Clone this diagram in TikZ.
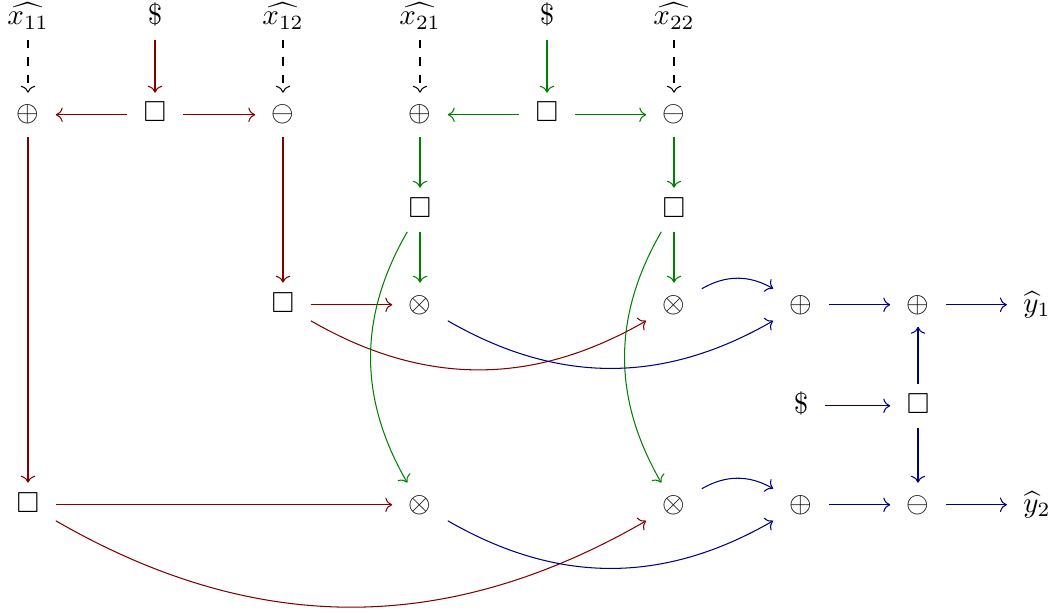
\documentclass[tikz,border=0pt]{standalone}
\usepackage{amssymb}
\usetikzlibrary{arrows.meta}
\definecolor{cdred}{rgb}{0.5,0,0}
\definecolor{cdgreen}{rgb}{0,0.5,0}
\definecolor{cdblue}{rgb}{0,0,0.5}
\begin{document}
\begin{tikzpicture}[x=0.345pt,y=-0.345pt,
  cell/.style={anchor=base, inner xsep=5.5pt, inner ysep=3.5pt,
               text height=6.4pt, text depth=1.4pt},
  arr/.style={-{Computer Modern Rightarrow}, line width=0.36pt},
  rd/.style={arr, draw=cdred},
  gr/.style={arr, draw=cdgreen},
  bl/.style={arr, draw=cdblue},
  dsh/.style={arr, draw=black, dashed}]
\useasboundingbox (0,0) rectangle (1057,612);

% inputs
\node[cell] (x11) at (28,25)  {$\widehat{x_{11}}$};
\node[cell] (d1)  at (155,25) {$\$$};
\node[cell] (x12) at (283,25) {$\widehat{x_{12}}$};
\node[cell] (x21) at (420,25) {$\widehat{x_{21}}$};
\node[cell] (d2)  at (547,25) {$\$$};
\node[cell] (x22) at (674,25) {$\widehat{x_{22}}$};

% masking row
\node[cell] (p11) at (28,122)  {$\oplus$};
\node[cell] (s1)  at (155,122) {$\square$};
\node[cell] (m12) at (283,122) {$\ominus$};
\node[cell] (p21) at (420,122) {$\oplus$};
\node[cell] (s2)  at (547,122) {$\square$};
\node[cell] (m22) at (674,122) {$\ominus$};

\node[cell] (s21) at (420,217) {$\square$};
\node[cell] (s22) at (674,217) {$\square$};

% first output row
\node[cell] (s12) at (283,312)  {$\square$};
\node[cell] (t11) at (420,312)  {$\otimes$};
\node[cell] (t12) at (674,312)  {$\otimes$};
\node[cell] (a1)  at (801,312)  {$\oplus$};
\node[cell] (b1)  at (918,312)  {$\oplus$};
\node[cell] (y1)  at (1037,312) {$\widehat{y}_1$};

\node[cell] (d3)  at (801,413) {$\$$};
\node[cell] (s3)  at (918,413) {$\square$};

% second output row
\node[cell] (s11) at (28,512)   {$\square$};
\node[cell] (t21) at (420,512)  {$\otimes$};
\node[cell] (t22) at (674,512)  {$\otimes$};
\node[cell] (a2)  at (801,512)  {$\oplus$};
\node[cell] (b2)  at (918,512)  {$\ominus$};
\node[cell] (y2)  at (1037,512) {$\widehat{y}_2$};

% dashed inputs
\draw[dsh] (x11) -- (p11);
\draw[dsh] (x12) -- (m12);
\draw[dsh] (x21) -- (p21);
\draw[dsh] (x22) -- (m22);

% first party (red)
\draw[rd] (d1) -- (s1);
\draw[rd] (s1) -- (p11);
\draw[rd] (s1) -- (m12);
\draw[rd] (p11) -- (s11);
\draw[rd] (m12) -- (s12);
\draw[rd] (s12) -- (t11);
\draw[rd] (s12) to[bend right] (t12);
\draw[rd] (s11) -- (t21);
\draw[rd] (s11) to[bend right] (t22);

% second party (green)
\draw[gr] (d2) -- (s2);
\draw[gr] (s2) -- (p21);
\draw[gr] (s2) -- (m22);
\draw[gr] (p21) -- (s21);
\draw[gr] (m22) -- (s22);
\draw[gr] (s21) -- (t11);
\draw[gr] (s22) -- (t12);
\draw[gr] (s21) to[bend right] (t21);
\draw[gr] (s22) to[bend right] (t22);

% output (blue)
\draw[bl] (t11) to[bend right] (a1);
\draw[bl] (t12) to[bend left] (a1);
\draw[bl] (t21) to[bend right] (a2);
\draw[bl] (t22) to[bend left] (a2);
\draw[bl] (a1) -- (b1);
\draw[bl] (b1) -- (y1);
\draw[bl] (a2) -- (b2);
\draw[bl] (b2) -- (y2);
\draw[bl] (d3) -- (s3);
\draw[bl] (s3) -- (b1);
\draw[bl] (s3) -- (b2);
\end{tikzpicture}
\end{document}
